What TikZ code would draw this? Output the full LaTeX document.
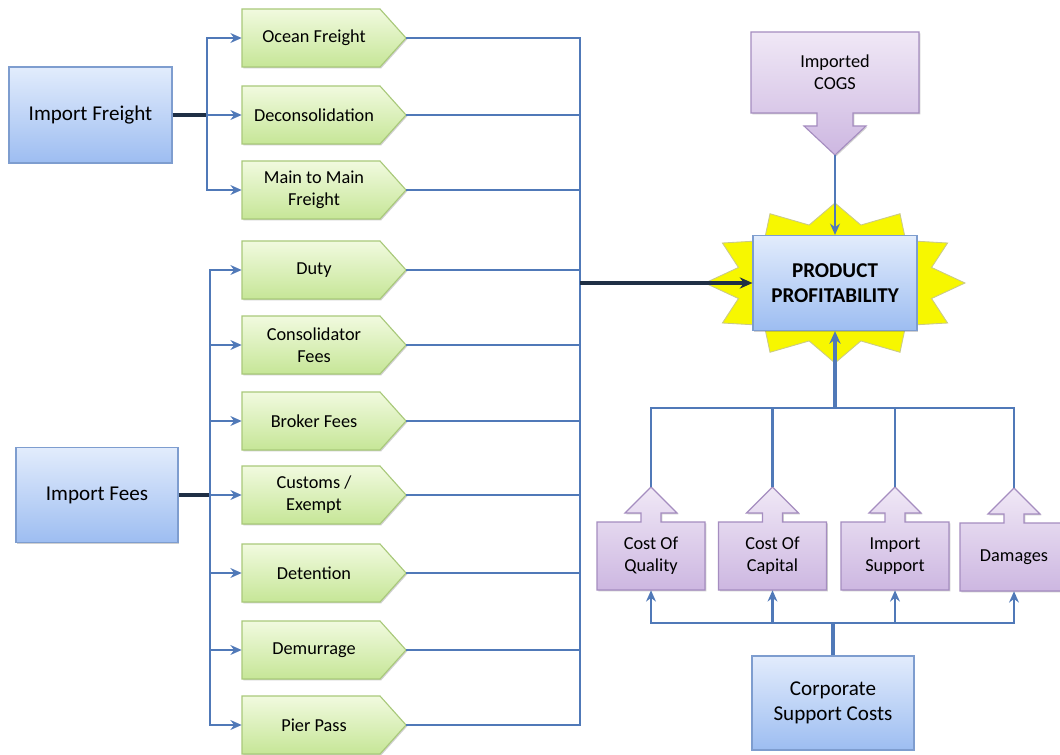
\documentclass[tikz,border=0pt]{standalone}
\usepackage{fontspec}
\setmainfont{Carlito}
\usetikzlibrary{arrows.meta,calc,shadows}
\definecolor{ln}{HTML}{5079B8}
\definecolor{dk}{HTML}{1F2F45}
\definecolor{bTop}{HTML}{E2ECFC}
\definecolor{bBot}{HTML}{9DBDF1}
\definecolor{bBrd}{HTML}{7E9DCF}
\definecolor{gTop}{HTML}{F1FADF}
\definecolor{gBot}{HTML}{C6E697}
\definecolor{gBrd}{HTML}{A9C97A}
\definecolor{pTop}{HTML}{F0E8F6}
\definecolor{pBot}{HTML}{CDB7E1}
\definecolor{pBrd}{HTML}{A58DC0}
\definecolor{stY}{HTML}{F7F700}
\definecolor{stB}{HTML}{C9C98A}
\tikzset{
  shd/.style={drop shadow={shadow xshift=0.9pt,shadow yshift=-0.9pt,opacity=0.3,fill=black!60}},
  bluebox/.style={shd,draw=bBrd,line width=0.8pt,top color=bTop,bottom color=bBot,align=center,inner sep=0pt,font=\fontsize{15}{18}\selectfont},
  gshape/.style={shd,draw=gBrd,line width=0.8pt,top color=gTop,bottom color=gBot},
  gtext/.style={minimum width=3.6cm,minimum height=1.45cm,inner sep=0pt,align=center,font=\fontsize{13}{15.6}\selectfont},
  pshape/.style={shd,draw=pBrd,line width=0.8pt,top color=pTop,bottom color=pBot},
  ptext/.style={inner sep=0pt,align=center,font=\fontsize{13}{15.6}\selectfont},
  conn/.style={draw=ln,line width=1.8pt},
  arr/.style={conn,-{Stealth[length=8pt,width=7pt]}},
  thickconn/.style={draw=ln,line width=2.6pt},
  dkconn/.style={draw=dk,line width=2.4pt},
}
\newcommand\gsh[3]{%
  \path[gshape] (242,#2-29) -- (380,#2-29) -- (406,#2) -- (380,#2+29) -- (242,#2+29) -- cycle;
  \node[gtext] (#1) at (314,#2) {#3};
  \coordinate (#1-tip) at (406,#2);
}
\newcommand\pup[4]{%
  \path[pshape] (#2-54,#3+34) -- (#2-54,#3-34) -- (#2-10,#3-34) -- (#2-10,#3-43) -- (#2-26,#3-43) -- (#2,#3-69) -- (#2+26,#3-43) -- (#2+10,#3-43) -- (#2+10,#3-34) -- (#2+54,#3-34) -- (#2+54,#3+34) -- cycle;
  \node[ptext,minimum width=2.7cm,minimum height=1.7cm] (#1) at (#2,#3) {#4};
  \coordinate (#1-tip) at (#2,#3-69);
}
\begin{document}
\begin{tikzpicture}[x=0.025cm,y=-0.025cm]
\useasboundingbox[fill=white] (0,0) rectangle (1060,755);

% left blue boxes
\node[bluebox,minimum width=4.075cm,minimum height=2.4cm] (ifr) at (90.5,115) {Import Freight};
\node[bluebox,minimum width=4.05cm,minimum height=2.375cm] (ife) at (97,495) {Import Fees};

% green items
\gsh{ocean}{38}{Ocean Freight}
\gsh{decon}{115}{Deconsolidation}
\gsh{mtm}{190}{Main to Main\\Freight}
\gsh{duty}{270}{Duty}
\gsh{cons}{345}{Consolidator\\Fees}
\gsh{brok}{421}{Broker Fees}
\gsh{cust}{495}{Customs /\\Exempt}
\gsh{dete}{573}{Detention}
\gsh{demu}{650}{Demurrage}
\gsh{pier}{725}{Pier Pass}

% star
\path[fill=stY,draw=stB,line width=0.6pt] (965,283)
  \foreach \k in {1,...,23} { -- ({835+(115+15*cos(180*\k))*cos(15*\k)},{283+(70+10*cos(180*\k))*sin(15*\k)}) } -- cycle;

% product profitability
\node[bluebox,minimum width=4.1cm,minimum height=2.375cm,font=\fontsize{15}{18}\selectfont\bfseries] (pp) at (835,283) {PRODUCT\\PROFITABILITY};

% imported COGS
\path[pshape] (751,113) -- (751,32) -- (919,32) -- (919,113) -- (853,113) -- (853,126) -- (866,126) -- (835,155) -- (804,126) -- (817,126) -- (817,113) -- cycle;
\node[ptext,minimum width=4.2cm,minimum height=2cm] (cogs) at (835,72.5) {Imported\\COGS};
\coordinate (cogs-tip) at (835,155);

% lower purple
\pup{coq}{651}{556}{Cost Of\\Quality}
\pup{coc}{772.5}{556}{Cost Of\\Capital}
\pup{isup}{895}{556}{Import\\Support}
\pup{dmg}{1014}{557}{Damages}

% corporate
\node[bluebox,minimum width=4.05cm,minimum height=2.35cm] (csc) at (833,703) {Corporate\\Support Costs};

% left brackets
\coordinate (b1) at (207,115);
\coordinate (b2) at (210,495);
\draw[dkconn] (ifr.east) -- (b1);
\draw[dkconn] (ife.east) -- (b2);
\foreach \n in {ocean,decon,mtm} \draw[arr] (b1) |- (\n.west);
\foreach \n in {duty,cons,brok,cust,dete,demu,pier} \draw[arr] (b2) |- (\n.west);

% collector
\coordinate (c) at (580,283);
\foreach \n in {ocean,decon,mtm,duty,cons,brok,cust,dete,demu,pier} \draw[conn] (\n-tip) -| (c);
\draw[dkconn,-{Stealth[length=9pt,width=8pt]}] (c) -- (pp.west);

% cogs arrow
\draw[arr] (cogs-tip) -- (pp.north);

% upper junction
\coordinate (j1) at (835,408);
\draw[thickconn,-{Stealth[length=9pt,width=8pt]}] (j1) -- (pp.south);
\foreach \n in {coq,coc,isup,dmg} \draw[conn] (\n-tip) |- (j1);

% lower junction
\coordinate (j2) at (833,623);
\draw[thickconn] (csc.north) -- (j2);
\foreach \n in {coq,coc,isup,dmg} \draw[arr] (j2) -| (\n.south);
\end{tikzpicture}
\end{document}
